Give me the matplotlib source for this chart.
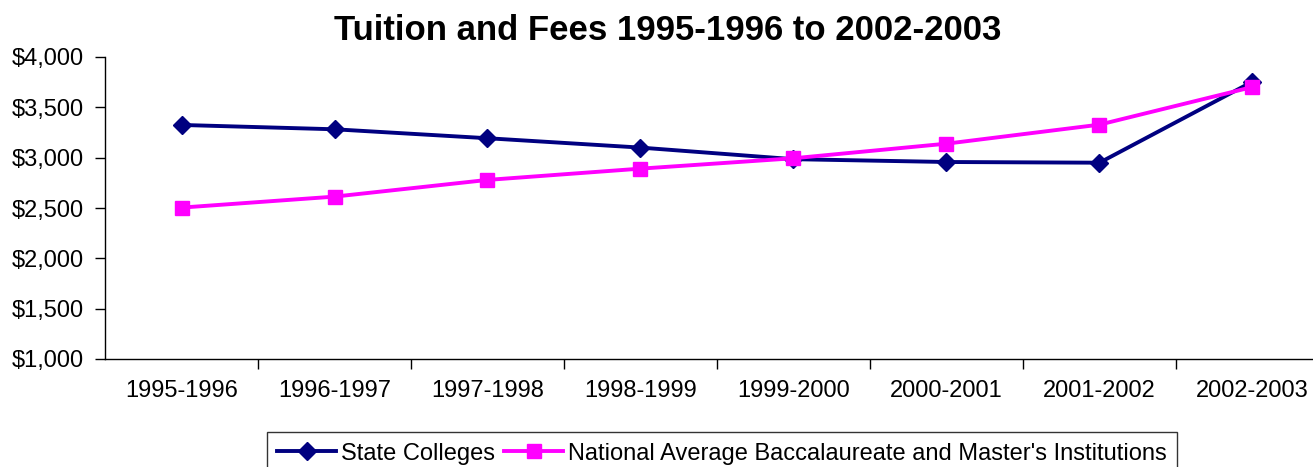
import matplotlib.pyplot as plt
from matplotlib.ticker import FuncFormatter

plt.rcParams['font.family'] = ['Liberation Sans', 'DejaVu Sans']

years = ["1995-1996", "1996-1997", "1997-1998", "1998-1999",
         "1999-2000", "2000-2001", "2001-2002", "2002-2003"]
state_colleges = [3325, 3282, 3193, 3100, 2985, 2957, 2950, 3755]
national_avg = [2504, 2613, 2779, 2891, 2994, 3139, 3328, 3702]

W, H = 1313, 467
fig = plt.figure(figsize=(W / 100, H / 100), dpi=100)
# plot area runs slightly past the right edge, like the original
ax = fig.add_axes([105 / W, 1 - 359 / H, 1224 / W, 302 / H])

x = list(range(len(years)))
ax.plot(x, state_colleges, color='#000080', lw=2.8, marker='D', ms=9,
        label='State Colleges')
ax.plot(x, national_avg, color='#FF00FF', lw=2.8, marker='s', ms=9.5,
        label="National Average Baccalaureate and Master's Institutions")

ax.set_xlim(-0.5, len(years) - 0.5)
ax.set_ylim(1000, 4000)
ax.set_yticks(range(1000, 4001, 500))
ax.yaxis.set_major_formatter(FuncFormatter(lambda v, p: f"${v:,.0f}"))
ax.set_xticks(x)
ax.set_xticklabels(years)
ax.set_xticks([i + 0.5 for i in x], minor=True)
ax.tick_params(axis='x', which='major', length=0, pad=15, labelsize=17)
ax.tick_params(axis='x', which='minor', length=7, width=1)
ax.tick_params(axis='y', length=7, width=1, labelsize=17, pad=8)

for s in ['top', 'right']:
    ax.spines[s].set_visible(False)
for s in ['left', 'bottom']:
    ax.spines[s].set_linewidth(1)

fig.text(668 / W, 1 - 30 / H, "Tuition and Fees 1995-1996 to 2002-2003",
         ha='center', va='center', fontsize=25, fontweight='bold')

leg = fig.legend(loc='upper center', bbox_to_anchor=(722 / W, 1 - 432 / H),
                 ncol=2, frameon=True, fancybox=False, fontsize=17,
                 handlelength=2.5, handletextpad=0.2, columnspacing=0.4,
                 borderpad=0.45, borderaxespad=0)
leg.get_frame().set_edgecolor('black')
leg.get_frame().set_linewidth(1)

fig.savefig('out.png', dpi=100)
